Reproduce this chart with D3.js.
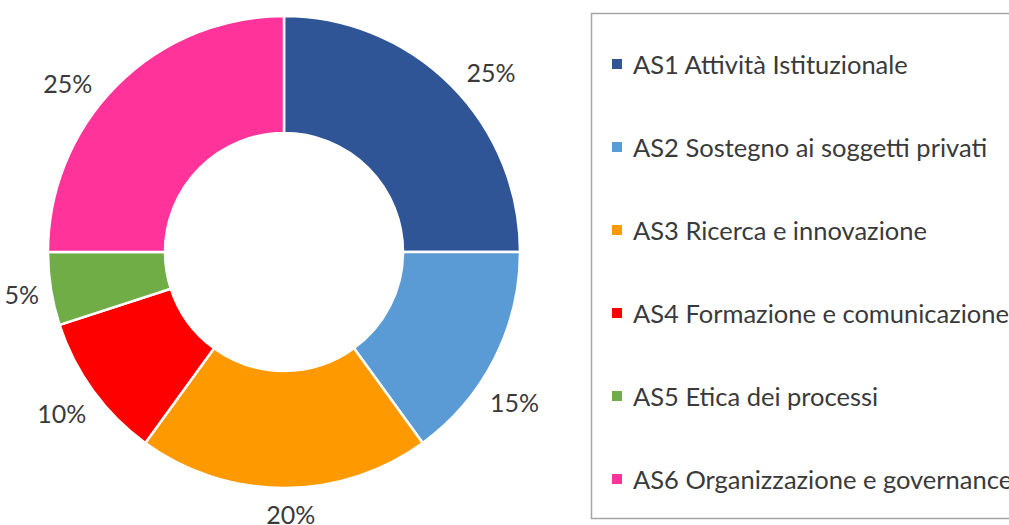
<!DOCTYPE html>
<html>
<head>
<meta charset="utf-8">
<script src="https://cdn.jsdelivr.net/npm/d3@7"></script>
<style>
  body { margin: 0; background: #fff; }
  text { font-family: Lato, "Noto Sans", sans-serif; fill: #3a3a3a; }
</style>
</head>
<body>
<script>
// data
const categories = [
  "AS1 Attività Istituzionale",
  "AS2 Sostegno ai soggetti privati",
  "AS3 Ricerca e innovazione",
  "AS4 Formazione e comunicazione",
  "AS5 Etica dei processi",
  "AS6 Organizzazione e governance"
];
const values = [25, 15, 20, 10, 5, 25];
const colors = ["#2F5597", "#5B9BD5", "#FF9900", "#FF0000", "#70AD47", "#FF3399"];
// small angle nudges (degrees) so labels sit where the original puts them
const labelNudge = [4, 6, -1.5, 0, 0, -7];

const width = 1009, height = 525;
const cx = 284, cy = 252;
const outerR = 236, innerR = 119;

let svg = d3.select('body').append('svg').attr('width', width).attr('height', height);

let pie = d3.pie().sort(null).value(d => d);
let arc = d3.arc().innerRadius(innerR).outerRadius(outerR);
let arcs = pie(values);

let g = svg.append('g').attr('transform', `translate(${cx},${cy})`);

g.selectAll('path')
  .data(arcs)
  .enter()
    .append('path')
    .attr('d', arc)
    .attr('fill', (d, i) => colors[i])
    .attr('stroke', '#fff')
    .attr('stroke-width', 2.5);

// labels outside the ring
g.selectAll('text.lbl')
  .data(arcs)
  .enter()
    .append('text')
    .attr('class', 'lbl')
    .attr('text-anchor', 'middle')
    .attr('dominant-baseline', 'central')
    .style('font-size', '25px')
    .text(d => d.value + '%')
    .each(function(d, i) {
      let a = (d.startAngle + d.endAngle) / 2 + labelNudge[i] * Math.PI / 180;
      let ux = Math.sin(a), uy = -Math.cos(a);
      let bb = this.getBBox();
      let r = outerR + 10 + Math.abs(ux) * bb.width / 2 + Math.abs(uy) * bb.height / 2;
      d3.select(this).attr('x', ux * r).attr('y', uy * r);
    });

// legend
let legend = svg.append('g');
legend.append('rect')
  .attr('x', 591.5).attr('y', 13.5)
  .attr('width', 440).attr('height', 505)
  .attr('fill', 'none')
  .attr('stroke', '#A6A6A6')
  .attr('stroke-width', 1.5);

let ly = d3.scalePoint().domain(categories).range([64, 479]);

let items = legend.selectAll('g.item')
  .data(categories)
  .enter()
    .append('g')
    .attr('class', 'item')
    .attr('transform', d => `translate(612,${ly(d)})`);

items.append('rect')
  .attr('x', 0).attr('y', -5)
  .attr('width', 10).attr('height', 10)
  .attr('fill', (d, i) => colors[i]);

items.append('text')
  .attr('x', 21).attr('y', 0)
  .attr('dominant-baseline', 'central')
  .style('font-size', '25.5px')
  .text(d => d);
</script>
</body>
</html>
